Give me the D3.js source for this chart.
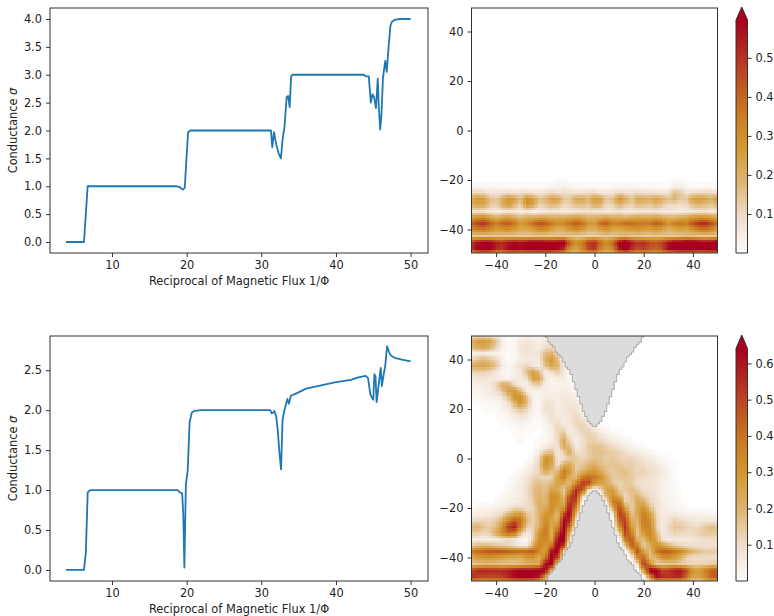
<!DOCTYPE html>
<html>
<head>
<meta charset="utf-8">
<script src="https://cdnjs.cloudflare.com/ajax/libs/d3/7.8.5/d3.min.js"></script>
<style>
  body { margin: 0; background: #fff; }
  svg { display: block; }
  text { font-family: "DejaVu Sans", sans-serif; fill: #222; }
</style>
</head>
<body>
<script>
// conductance curves
var fluxUpper = [3.84, 6.25, 6.5, 6.74, 18.66, 19, 19.3, 19.5, 19.75, 20, 20.2, 20.5, 31.2, 31.3, 31.47, 31.7, 32, 32.3, 32.63, 32.86, 33.1, 33.4, 33.6, 33.8, 34, 34.15, 43.75, 44, 44.4, 44.67, 44.9, 45.1, 45.36, 45.6, 45.75, 45.93, 46.1, 46.3, 46.6, 46.8, 47.05, 47.3, 47.5, 47.95, 48.6, 50]
var sigmaUpper = [0, 0, 0.5, 1, 1, 0.99, 0.96, 0.94, 0.97, 1.55, 1.97, 2, 2, 2, 1.7, 1.97, 1.75, 1.6, 1.5, 1.85, 2.05, 2.6, 2.62, 2.42, 2.97, 3, 3, 2.97, 2.97, 2.5, 2.65, 2.6, 2.4, 2.93, 2.4, 2.02, 2.3, 2.95, 3.25, 3.05, 3.5, 3.88, 3.95, 3.99, 4, 4]
var fluxLower = [3.84, 6.25, 6.5, 6.75, 7.1, 18.8, 19.1, 19.4, 19.55, 19.7, 19.9, 20.15, 20.4, 20.7, 21, 22, 31.2, 31.4, 31.6, 31.75, 32, 32.2, 32.45, 32.65, 32.85, 33.1, 33.5, 33.7, 33.95, 34.5, 36, 38, 40, 42, 43, 44, 44.3, 44.6, 44.85, 45, 45.15, 45.3, 45.45, 45.7, 46, 46.15, 46.4, 46.6, 46.85, 47.1, 47.4, 48, 49, 50]
var sigmaLower = [0, 0, 0.22, 0.97, 1, 1, 0.97, 0.96, 0.7, 0.03, 1.07, 1.25, 1.85, 1.97, 1.99, 2, 2, 1.96, 1.97, 1.99, 1.92, 1.75, 1.45, 1.26, 1.88, 2, 2.14, 2.08, 2.18, 2.2, 2.27, 2.31, 2.35, 2.38, 2.41, 2.43, 2.4, 2.2, 2.15, 2.13, 2.45, 2.42, 2.1, 2.3, 2.53, 2.3, 2.45, 2.55, 2.8, 2.73, 2.68, 2.65, 2.63, 2.61]

var fluxTicks = [10, 20, 30, 40, 50]
var sigmaTicksUpper = [0, 0.5, 1, 1.5, 2, 2.5, 3, 3.5, 4]
var sigmaTicksLower = [0, 0.5, 1, 1.5, 2, 2.5]
var heatTicks = [-40, -20, 0, 20, 40]
var barTicksUpper = [0.1, 0.2, 0.3, 0.4, 0.5]
var barTicksLower = [0.1, 0.2, 0.3, 0.4, 0.5, 0.6]

// heat map samples in hundredths, every 2.5 units. rows run from y=50 down to y=-50,
// columns from x=-50 to x=50. missing values at the end of a row are zero
var upperRows = [
  [], [], [], [], [], [], [], [], [], [], [], [], [], [],
  [], [], [], [], [], [], [], [], [], [], [], [], [], [],
  [0,0,0,0,0,0,0,0,0,0,0,0,0,0,1,1,0,0,0,0,0,0,0,0,0,0,0,0,0,0,0,0,0,1,1],
  [2,2,2,2,2,1,1,1,1,1,1,1,1,2,3,4,2,1,1,1,1,1,1,1,2,2,2,2,1,1,1,1,1,4,4,2,1,1,1,1,1],
  [10,11,10,7,7,8,9,7,8,9,7,7,9,10,8,9,9,8,8,9,10,7,7,8,11,9,8,10,8,8,8,7,8,16,14,8,9,10,11,10,9],
  [22,27,26,16,14,20,28,24,16,30,26,16,18,24,24,14,14,22,22,18,26,24,14,16,28,22,14,22,22,20,24,20,16,18,14,14,24,26,24,20,26],
  [20,22,22,14,12,20,26,18,12,28,24,12,14,18,16,10,12,16,16,14,20,18,10,12,18,14,12,16,16,14,18,14,10,10,8,10,16,18,16,14,18],
  [8,9,8,6,5,6,8,7,5,7,4,4,6,7,7,6,6,7,8,8,8,7,6,7,8,6,6,7,7,7,7,6,6,6,6,6,7,8,8,7,8],
  [26,30,32,26,20,24,26,22,18,22,22,24,24,22,22,22,24,26,24,20,20,22,24,22,22,20,22,24,24,22,26,22,20,20,22,24,28,30,30,26,24],
  [40,46,50,42,34,40,42,36,26,30,38,44,42,36,30,32,36,42,38,28,26,38,42,32,34,38,38,36,36,36,42,38,28,34,36,34,44,50,52,44,36],
  [32,34,36,32,26,28,30,26,22,22,26,30,30,24,20,22,26,30,26,20,20,24,28,22,22,24,26,28,26,24,28,24,20,22,24,22,28,34,36,32,24],
  [14,14,14,14,14,14,14,14,13,13,14,14,14,14,14,14,13,13,12,12,12,13,14,14,15,16,14,14,13,13,14,14,14,14,14,16,15,14,14,14,14],
  [50,56,60,60,54,52,56,58,56,60,62,62,60,60,62,62,42,30,36,48,52,40,30,40,60,68,56,50,52,46,44,48,56,62,62,66,66,62,60,62,64],
  [48,60,64,62,52,50,58,62,58,62,62,64,64,62,60,52,30,24,32,46,50,34,26,34,56,64,52,46,48,44,40,46,58,62,66,66,66,62,64,66,66],
  [20,22,24,22,20,20,22,22,20,22,22,22,22,22,20,18,14,14,16,18,18,16,14,16,20,22,20,18,18,18,18,20,22,22,24,24,24,22,22,24,24]
]

// left half of the lower map: x=-50 to x=0
var lowerLeft = [
  [8,9,10,9,6,2,0,0,2,3,2,2,3,2],
  [22,26,28,25,16,5,1,2,6,8,6,4,7,8,2],
  [18,22,24,20,12,4,1,3,8,9,7,5,10,12,6],
  [5,6,6,5,4,2,1,2,6,8,7,8,18,20,12],
  [12,16,19,16,12,4,1,2,5,6,6,6,22,28,18,2],
  [22,24,25,22,16,6,2,5,9,12,8,5,16,24,20,5,1],
  [12,13,13,11,7,2,2,4,8,18,28,18,5,9,14,7,1],
  [7,8,8,7,6,4,3,6,6,10,27,26,7,3,6,5,2],
  [4,5,5,7,12,22,22,10,5,4,12,14,4,3,3,4,3,1],
  [3,3,4,6,9,16,26,28,18,5,3,4,4,4,4,5,4,2],
  [1,2,3,4,5,8,16,30,33,16,3,2,6,5,5,6,6,4],
  [1,1,1,2,2,4,8,20,30,18,4,2,9,8,5,6,8,7,2],
  [0,0,1,1,1,3,5,12,16,11,3,2,10,9,5,7,9,9,3],
  [0,0,0,0,1,1,2,6,9,7,3,1,6,9,5,6,8,11,7,1],
  [0,0,0,0,0,1,1,3,4,3,1,1,3,7,10,5,8,12,11,6],
  [0,0,0,0,0,0,1,1,2,1,1,0,2,5,12,9,5,10,13,10,6],
  [0,0,0,0,0,0,0,1,1,1,0,0,2,4,12,17,6,8,11,13,11],
  [0,0,0,0,0,0,0,0,1,0,0,1,2,5,11,24,11,5,9,13,13],
  [0,0,0,0,0,0,0,0,0,0,0,2,5,9,8,24,17,6,9,15,16],
  [0,0,0,0,0,0,0,0,0,0,1,6,16,17,6,14,22,10,10,14,17],
  [0,0,0,0,0,0,0,0,0,0,2,11,32,27,7,10,14,15,12,14,17],
  [0,0,0,0,0,0,0,0,0,2,5,13,32,25,8,22,24,14,15,20,22],
  [0,0,0,0,0,0,0,0,2,4,8,12,25,17,18,38,30,14,20,26,30],
  [0,0,0,0,0,0,0,2,4,7,13,13,11,13,26,36,21,20,38,42,38],
  [0,0,0,0,0,0,1,3,5,9,15,18,15,19,26,23,18,36,54,50,28],
  [0,0,0,0,0,0,2,4,6,10,16,20,16,26,24,14,32,55,48,10,0],
  [0,0,0,0,0,2,3,4,5,9,16,20,18,32,32,18,48,58,14,0,0],
  [0,0,0,0,1,2,4,5,7,10,14,22,18,32,30,22,56,48,2,0,0],
  [1,2,3,3,4,5,7,12,11,10,12,20,24,32,26,30,62,34,0,0,0],
  [4,5,6,7,9,12,20,26,30,16,12,20,30,30,18,52,64,20,0,0,0],
  [10,12,12,12,14,22,36,46,40,20,12,20,34,26,22,64,56,8,0,0,0],
  [18,20,16,14,18,30,52,58,36,14,12,22,38,24,34,66,40,3,0,0,0],
  [14,14,12,14,24,34,42,38,16,6,12,30,40,22,50,68,20,0,0,0,0],
  [6,6,5,5,6,8,11,8,3,2,14,32,36,26,62,68,8,0,0,0,0],
  [14,18,20,18,16,14,12,9,6,6,22,36,28,40,68,50,0,0,0,0,0],
  [36,42,44,46,46,46,44,42,40,42,46,34,26,60,66,10,0,0,0,0,0],
  [24,28,30,30,28,26,24,22,22,28,30,22,38,66,50,1,0,0,0,0,0],
  [14,16,18,18,18,16,16,16,18,20,22,24,62,66,14,0,0,0,0,0,0],
  [50,56,58,56,56,56,58,62,64,64,64,66,66,28,0,0,0,0,0,0,0],
  [54,52,50,50,50,52,56,62,64,64,64,60,34,0,0,0,0,0,0,0,0],
  [22,22,22,24,24,24,26,28,28,28,24,16,3,0,0,0,0,0,0,0,0]
]

// right half of the lower map: x=2.5 to x=50
var lowerRight = [
  [], [], [], [], [], [], [], [], [], [], [], [], [], [], [],
  [3,1],
  [7,4,2,1],
  [11,8,6,4,2,1],
  [16,13,11,8,6,4,2,1],
  [17,15,14,12,10,8,6,4,2,1],
  [16,13,15,13,12,12,10,8,6,4,2,1],
  [18,16,16,16,13,14,12,10,8,7,4,2,1],
  [24,16,14,16,18,14,12,13,10,9,6,3,1],
  [32,22,14,15,16,15,11,10,9,8,5,3,1],
  [26,24,16,12,15,14,10,8,9,7,4,3,1],
  [10,26,28,14,14,18,14,10,9,7,4,3,2],
  [0,22,32,22,11,16,20,13,10,8,4,3,2],
  [0,8,38,40,14,14,24,22,12,9,5,3,2,1],
  [0,0,24,50,28,12,24,32,18,9,5,4,3,2,1],
  [0,0,6,52,44,16,24,38,28,12,6,6,7,5,4,4,4,3,3,3],
  [0,0,0,44,52,22,20,40,32,14,6,9,13,11,9,7,7,7,7,7],
  [0,0,0,30,54,28,18,36,34,14,6,11,15,15,12,11,11,15,17,17],
  [0,0,0,12,50,38,16,28,36,20,7,9,13,11,11,11,13,15,15,15],
  [0,0,0,0,36,48,20,18,32,26,10,6,7,7,7,8,9,10,10,10],
  [0,0,0,0,14,46,36,12,22,32,28,20,14,12,10,9,9,9,9,9],
  [0,0,0,0,0,20,46,26,18,36,44,44,38,34,26,20,16,14,14,14],
  [0,0,0,0,0,2,32,44,18,18,30,32,28,20,12,10,10,10,10,10],
  [0,0,0,0,0,0,10,56,34,14,14,16,16,14,12,12,12,12,14,14],
  [0,0,0,0,0,0,0,30,66,68,50,52,58,60,48,30,28,36,44,46],
  [0,0,0,0,0,0,0,2,34,62,56,54,56,56,40,26,26,34,44,46],
  [0,0,0,0,0,0,0,0,0,18,18,18,18,18,14,10,10,14,18,18]
]

// grey hole in the lower map: half width at each |y|
var holeLevels = [13, 13.5, 17.5, 25, 33.7, 40.5, 46, 49.5, 50]
var holeHalfWidths = [0, 1.2, 3.9, 6.6, 9.3, 13.4, 17.4, 20.3, 21]

var cmapStops = [0, 0.15, 0.3, 0.45, 0.6, 0.75, 1]
var cmapColors = ['#fdfcfb', '#f0dfcf', '#dfb674', '#d49a33', '#cb7a22', '#bf4f24', '#a8001f']

var options = {
  width: 774,
  height: 616,
  lineLeft: 50,
  lineRight: 428,
  heatLeft: 471.5,
  heatRight: 717.5,
  barLeft: 736,
  barRight: 747.5,
  fontSize: 11.4,
  sampleStep: 1
}

var svg = d3.select('body').append('svg')
  .attr('width', options.width)
  .attr('height', options.height)

var colorFrac = d3.scaleLinear().domain(cmapStops).range(cmapColors).clamp(true)

function lerp(a, b, t) {
  return a + (b - a) * t
}

// value of a map at (x, y), bilinear between the samples
function sampleMap(rows, x, y) {
  var fx = (x + 50) / 2.5, fy = (50 - y) / 2.5
  var ix = Math.min(Math.floor(fx), 39), iy = Math.min(Math.floor(fy), 39)
  var tx = fx - ix, ty = fy - iy
  function at(r, c) { return (rows[r][c] || 0) / 100 }
  return lerp(lerp(at(iy, ix), at(iy, ix + 1), tx), lerp(at(iy + 1, ix), at(iy + 1, ix + 1), tx), ty)
}

function holeWidth(y) {
  var level = Math.abs(y)
  if (level < holeLevels[0]) return 0
  return d3.scaleLinear().domain(holeLevels).range(holeHalfWidths).clamp(true)(level)
}

function inHole(x, y) {
  return Math.abs(x) < holeWidth(y)
}

function styleAxis(g, fontSize) {
  g.selectAll('text').style('font-size', fontSize + 'px')
  g.selectAll('line').attr('stroke', '#333').attr('stroke-width', 1)
  g.select('.domain').remove()
}

function drawFrame(g, x0, x1, y0, y1) {
  g.append('rect')
    .attr('x', x0).attr('y', y0)
    .attr('width', x1 - x0).attr('height', y1 - y0)
    .attr('fill', 'none').attr('stroke', '#333').attr('stroke-width', 1)
}

function drawLineChart(flux, sigma, top, bottom, yDomain, yTicks) {
  var x = d3.scaleLinear().domain([1.7, 52.33]).range([options.lineLeft, options.lineRight])
  var y = d3.scaleLinear().domain(yDomain).range([bottom, top])
  var g = svg.append('g')

  g.append('g').attr('transform', 'translate(0,' + bottom + ')')
    .call(d3.axisBottom(x).tickValues(fluxTicks).tickFormat(d3.format('d')).tickSize(4).tickPadding(4))
    .call(styleAxis, options.fontSize)
  g.append('g').attr('transform', 'translate(' + options.lineLeft + ',0)')
    .call(d3.axisLeft(y).tickValues(yTicks).tickFormat(d3.format('.1f')).tickSize(4).tickPadding(4))
    .call(styleAxis, options.fontSize)

  g.append('path')
    .attr('d', d3.line().x(function(d) { return x(d[0]) }).y(function(d) { return y(d[1]) })(d3.zip(flux, sigma)))
    .attr('fill', 'none').attr('stroke', '#1f77b4').attr('stroke-width', 1.8)
    .attr('stroke-linejoin', 'round')

  drawFrame(g, options.lineLeft, options.lineRight, top, bottom)

  g.append('text')
    .attr('x', (options.lineLeft + options.lineRight) / 2)
    .attr('y', bottom + 32)
    .attr('text-anchor', 'middle')
    .style('font-size', options.fontSize + 'px')
    .text('Reciprocal of Magnetic Flux 1/\u03a6')

  var label = g.append('text')
    .attr('transform', 'translate(17,' + (top + bottom) / 2 + ') rotate(-90)')
    .attr('text-anchor', 'middle')
    .style('font-size', options.fontSize + 'px')
  label.append('tspan').text('Conductance ')
  label.append('tspan').style('font-style', 'italic').text('\u03c3')
}

function drawHeat(rows, top, bottom, vmax, withHole) {
  var x = d3.scaleLinear().domain([-50, 50]).range([options.heatLeft, options.heatRight])
  var y = d3.scaleLinear().domain([-49.5, 49.5]).range([bottom, top])
  var color = function(v) { return colorFrac(v / vmax) }
  var cells = [], greys = []
  var step = options.sampleStep

  d3.range(-50, 50, step).forEach(function(cx) {
    d3.range(-50, 50, step).forEach(function(cy) {
      var mx = cx + step / 2, my = cy + step / 2
      if (withHole && inHole(mx, my)) {
        greys.push({ x: cx, y: cy })
        return
      }
      var v = sampleMap(rows, mx, my)
      if (v > 0.004) cells.push({ x: cx, y: cy, v: v })
    })
  })

  var clipId = 'clip' + top
  svg.append('clipPath').attr('id', clipId).append('rect')
    .attr('x', options.heatLeft).attr('y', top)
    .attr('width', options.heatRight - options.heatLeft).attr('height', bottom - top)

  var g = svg.append('g')
  var plot = g.append('g').attr('clip-path', 'url(#' + clipId + ')')

  plot.selectAll('rect.cell').data(cells).enter().append('rect')
    .attr('class', 'cell')
    .attr('x', function(d) { return x(d.x) })
    .attr('y', function(d) { return y(d.y + step) })
    .attr('width', x(step) - x(0) + 0.4)
    .attr('height', y(0) - y(step) + 0.4)
    .attr('shape-rendering', 'crispEdges')
    .attr('fill', function(d) { return color(d.v) })

  if (withHole) {
    plot.selectAll('rect.grey').data(greys).enter().append('rect')
      .attr('class', 'grey')
      .attr('x', function(d) { return x(d.x) })
      .attr('y', function(d) { return y(d.y + step) })
      .attr('width', x(step) - x(0) + 0.4)
      .attr('height', y(0) - y(step) + 0.4)
      .attr('shape-rendering', 'crispEdges')
      .attr('fill', '#dcdcdc')

    // staircase outline round the grey cells
    var outline = d3.path()
    var isGrey = {}
    greys.forEach(function(d) { isGrey[d.x + ',' + d.y] = true })
    greys.forEach(function(d) {
      var x0 = x(d.x), x1 = x(d.x + step), y0 = y(d.y), y1 = y(d.y + step)
      if (!isGrey[(d.x - step) + ',' + d.y]) { outline.moveTo(x0, y0); outline.lineTo(x0, y1) }
      if (!isGrey[(d.x + step) + ',' + d.y]) { outline.moveTo(x1, y0); outline.lineTo(x1, y1) }
      if (!isGrey[d.x + ',' + (d.y + step)]) { outline.moveTo(x0, y1); outline.lineTo(x1, y1) }
      if (!isGrey[d.x + ',' + (d.y - step)]) { outline.moveTo(x0, y0); outline.lineTo(x1, y0) }
    })
    plot.append('path').attr('d', outline.toString())
      .attr('fill', 'none').attr('stroke', '#a6a6a6').attr('stroke-width', 0.9)
  }

  g.append('g').attr('transform', 'translate(0,' + bottom + ')')
    .call(d3.axisBottom(x).tickValues(heatTicks).tickSize(4).tickPadding(4))
    .call(styleAxis, options.fontSize)
  g.append('g').attr('transform', 'translate(' + options.heatLeft + ',0)')
    .call(d3.axisLeft(y).tickValues(heatTicks).tickSize(4).tickPadding(4))
    .call(styleAxis, options.fontSize)

  drawFrame(g, options.heatLeft, options.heatRight, top, bottom)
}

function drawColorbar(bodyTop, bottom, tip, vmax, ticks) {
  var y = d3.scaleLinear().domain([0, vmax]).range([bottom, bodyTop])
  var g = svg.append('g')
  var left = options.barLeft, right = options.barRight

  g.selectAll('rect.band').data(d3.range(bottom, bodyTop, -1)).enter().append('rect')
    .attr('class', 'band')
    .attr('x', left).attr('width', right - left)
    .attr('y', function(d) { return d - 1 })
    .attr('height', 1.4)
    .attr('fill', function(d) { return colorFrac(y.invert(d - 0.5) / vmax) })

  var outline = d3.path()
  outline.moveTo(left, bottom)
  outline.lineTo(left, bodyTop)
  outline.lineTo((left + right) / 2, tip)
  outline.lineTo(right, bodyTop)
  outline.lineTo(right, bottom)
  outline.closePath()

  var arrow = d3.path()
  arrow.moveTo(left, bodyTop)
  arrow.lineTo((left + right) / 2, tip)
  arrow.lineTo(right, bodyTop)
  arrow.closePath()
  g.append('path').attr('d', arrow.toString()).attr('fill', cmapColors[6])
  g.append('path').attr('d', outline.toString())
    .attr('fill', 'none').attr('stroke', '#333').attr('stroke-width', 1)

  g.append('g').attr('transform', 'translate(' + right + ',0)')
    .call(d3.axisRight(y).tickValues(ticks).tickFormat(d3.format('.1f')).tickSize(4).tickPadding(4))
    .call(styleAxis, options.fontSize)
}

var lowerRows = d3.range(41).map(function(i) {
  var left = lowerLeft[i].concat(d3.range(21 - lowerLeft[i].length).map(function() { return 0 }))
  return left.concat(lowerRight[i])
})

drawHeat(upperRows, 8, 253, 0.597, false)
drawHeat(lowerRows, 336, 581, 0.641, true)
drawLineChart(fluxUpper, sigmaUpper, 8, 253, [-0.197, 4.197], sigmaTicksUpper)
drawLineChart(fluxLower, sigmaLower, 336, 581, [-0.138, 2.928], sigmaTicksLower)
drawColorbar(20, 253, 7, 0.597, barTicksUpper)
drawColorbar(348.5, 581, 335, 0.641, barTicksLower)
</script>
</body>
</html>
